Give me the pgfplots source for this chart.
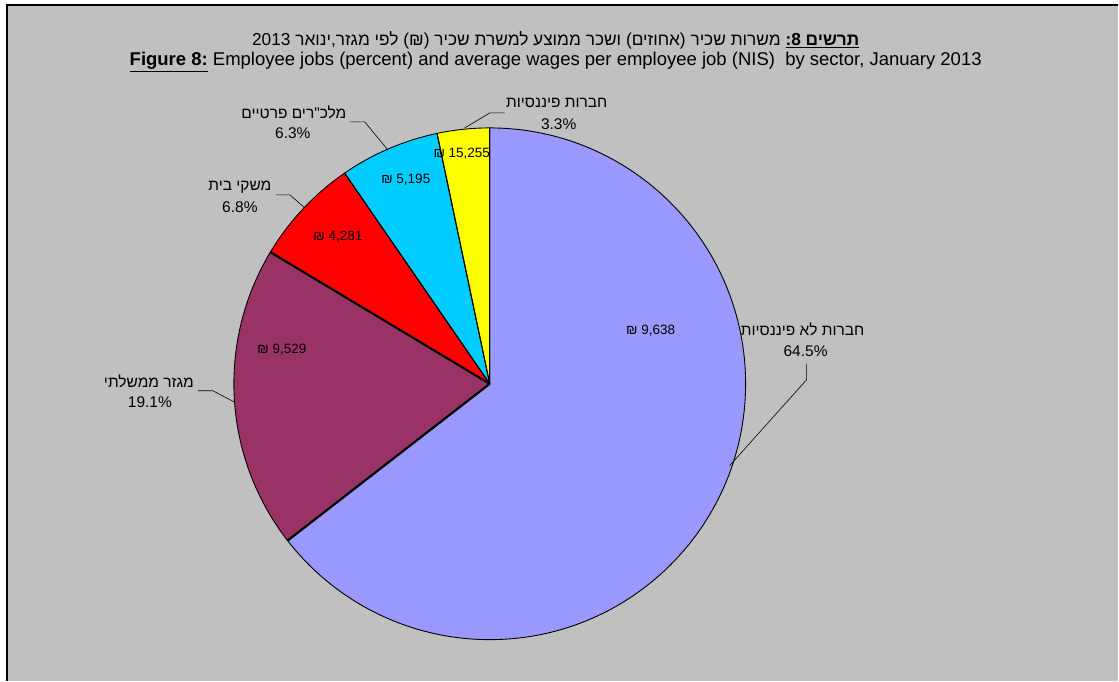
\documentclass[border=0pt]{standalone}
\usepackage{fontspec}
\setmainfont{Liberation Sans}
\newfontfamily\heb[Script=Hebrew]{Liberation Sans}
\usepackage{pgfplots}
\usepackage{pgfplotstable}
\pgfplotsset{compat=1.18}
\TeXXeTstate=1

\definecolor{bg}{HTML}{C0C0C0}
\definecolor{nonfin}{HTML}{9999FF}
\definecolor{gov}{HTML}{993366}
\definecolor{hh}{HTML}{FF0000}
\definecolor{npo}{HTML}{00CCFF}
\definecolor{fin}{HTML}{FFFF00}

% share of employee jobs (percent) and average wage (NIS);
% ew = width of the edge where the slice starts
\pgfplotstableread{
sector pct wage col ew
nonfin 64.5 9638 nonfin 0.9
gov 19.1 9529 gov 2.2
hh 6.8 4281 hh 2.2
npo 6.3 5195 npo 0.9
fin 3.3 15255 fin 0.9
}\piedata

\newcommand\lbl{\fontsize{15.5}{18}\selectfont}
\newcommand\wlbl{\fontsize{13.5}{16}\selectfont}

\begin{document}
\begin{tikzpicture}
\begin{axis}[
    scale only axis,
    width=1119pt, height=681pt,
    xmin=0, xmax=1119, ymin=0, ymax=681,
    hide axis, clip=false,
]
% background and frame
\fill[white] (axis cs:0,0) rectangle (axis cs:1119,681);
\fill[bg] (axis cs:7,0) rectangle (axis cs:1119,676);
\draw[line width=1.2pt] (axis cs:7,0) -- (axis cs:7,676) -- (axis cs:1119,676);

% slices, clockwise from 12 o'clock
\pgfplotstablegetrowsof{\piedata}
\pgfmathtruncatemacro\nrows{\pgfplotsretval-1}
\def\angA{90}
\pgfplotsforeachungrouped \i in {0,...,\nrows}{
  \pgfplotstablegetelem{\i}{pct}\of\piedata \let\p\pgfplotsretval
  \pgfplotstablegetelem{\i}{col}\of\piedata \let\c\pgfplotsretval
  \pgfmathsetmacro\angB{\angA-3.6*\p}
  \edef\slice{\noexpand\filldraw[fill=\c, draw=black, line width=0.9pt, line join=round]
    (axis cs:490,297) -- ++(\angA:256pt) arc[start angle=\angA, end angle=\angB, radius=256pt] -- cycle;}
  \slice
  \global\let\angA\angB
}
% second pass: slice edges
\def\angA{90}
\pgfplotsforeachungrouped \i in {0,...,\nrows}{
  \pgfplotstablegetelem{\i}{pct}\of\piedata \let\p\pgfplotsretval
  \pgfplotstablegetelem{\i}{ew}\of\piedata \let\w\pgfplotsretval
  \edef\edge{\noexpand\draw[line width=\w pt]
    (axis cs:490,297) -- ++(\angA:256pt);}
  \edge
  \pgfmathsetmacro\angB{\angA-3.6*\p}
  \global\let\angA\angB
}

% titles
\node[font=\fontsize{17.3}{20}\selectfont] at (axis cs:556,641) {\heb\beginR\underline{\hbox{\beginR\textbf{תרשים 8:}\endR}} משרות שכיר (אחוזים) ושכר ממוצע למשרת שכיר (₪) לפי מגזר,ינואר \beginL 2013\endL\endR};
\node[font=\fontsize{18.5}{21}\selectfont] at (axis cs:556,619) {\underline{\textbf{Figure 8:}} Employee jobs (percent) and average wages per employee job (NIS)\ \ by sector, January 2013};

% wage labels
\node[font=\wlbl] at (axis cs:651,350) {₪ 9,638};
\node[font=\wlbl] at (axis cs:282,331) {₪ 9,529};
\node[font=\wlbl] at (axis cs:338,444) {₪ 4,281};
\node[font=\wlbl] at (axis cs:406,501) {₪ 5,195};
\node[font=\wlbl] at (axis cs:462,527) {₪ 15,255};

% sector labels
\node[font=\lbl] at (axis cs:803,351) {\heb\beginR חברות לא פיננסיות\endR};
\node[font=\lbl] at (axis cs:806,330) {64.5\%};
\node[font=\lbl] at (axis cs:149,299) {\heb\beginR מגזר ממשלתי\endR};
\node[font=\lbl] at (axis cs:150,279) {19.1\%};
\node[font=\lbl] at (axis cs:240,494) {\heb\beginR משקי בית\endR};
\node[font=\lbl] at (axis cs:240,474) {6.8\%};
\node[font=\lbl] at (axis cs:294,569) {\heb\beginR מלכ"רים פרטיים\endR};
\node[font=\lbl] at (axis cs:293,548) {6.3\%};
\node[font=\lbl] at (axis cs:557,578) {\heb\beginR חברות פיננסיות\endR};
\node[font=\lbl] at (axis cs:559,557) {3.3\%};

% leader lines
\draw[line width=0.6pt] (axis cs:807,317) -- (axis cs:807,301) -- (axis cs:730,215);
\draw[line width=0.6pt] (axis cs:198,290) -- (axis cs:213,290) -- (axis cs:234,279);
\draw[line width=0.6pt] (axis cs:276,486) -- (axis cs:290,486) -- (axis cs:305,473);
\draw[line width=0.6pt] (axis cs:350,559) -- (axis cs:365,559) -- (axis cs:388,531);
\draw[line width=0.6pt] (axis cs:505,568) -- (axis cs:490,568) -- (axis cs:465,553);
\end{axis}
\end{tikzpicture}
\end{document}
